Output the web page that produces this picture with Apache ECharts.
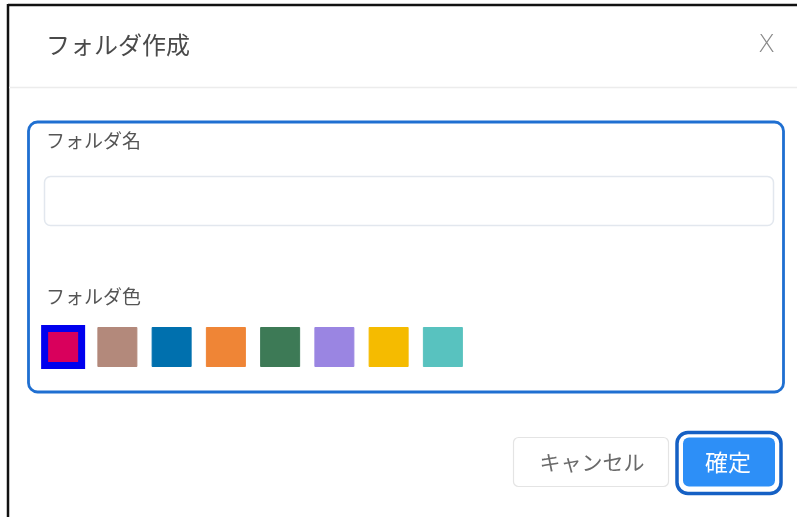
<!DOCTYPE html>
<html><head><meta charset="utf-8">
<script src="https://cdn.jsdelivr.net/npm/echarts@6/dist/echarts.min.js"></script>
<style>html,body{margin:0;padding:0;background:#fff}#c{width:797px;height:517px}</style>
</head><body><div id="c"></div>
<script>
const dialogTitle = 'フォルダ作成';
const nameLabel = 'フォルダ名';
const colorLabel = 'フォルダ色';
const cancelText = 'キャンセル';
const okText = '確定';
const swatchNames = ['magenta','brown','blue','orange','green','lavender','yellow','teal'];
const swatchColors = ['#d9005c','#b3897b','#0070ae','#ef8536','#3d7a56','#9a85e2','#f5bb00','#58c2bf'];
const swatchValues = [0.5,0.5,0.5,0.5,0.5,0.5,0.5,0.5];
const selectedIndex = 0;

const font = '"Noto Sans CJK JP","Noto Sans",sans-serif';
const chart = echarts.init(document.getElementById('c'), null, {renderer:'canvas'});
chart.setOption({
  backgroundColor:'#fff',
  animation:false,
  grid:{left:36, width:434, top:327, height:40},
  xAxis:{type:'category', data:swatchNames, show:false},
  yAxis:{type:'value', min:0, max:1, show:false},
  series:[{
    type:'scatter',
    symbol:'rect',
    symbolSize:39,
    data: swatchValues.map((v,i)=>({
      value:v,
      symbolSize: i===selectedIndex ? 37 : 39,
      itemStyle: i===selectedIndex
        ? {color:swatchColors[i], borderColor:'#0000ee', borderWidth:7, opacity:1}
        : {color:swatchColors[i], borderColor:swatchColors[i], borderWidth:1, opacity:1}
    })),
    emphasis:{disabled:true},
    z:10
  }],
  graphic:[
    {type:'line', shape:{x1:8,y1:5,x2:797,y2:5}, style:{stroke:'#111',lineWidth:2.5}},
    {type:'line', shape:{x1:8,y1:4,x2:8,y2:517}, style:{stroke:'#111',lineWidth:2.5}},
    {type:'line', shape:{x1:9,y1:87.5,x2:797,y2:87.5}, style:{stroke:'#ececec',lineWidth:1.5}},
    {type:'text', left:46, top:33, style:{text:dialogTitle, font:'24px '+font, fill:'#4a4a4a'}},
    {type:'text', left:758, top:33, style:{text:'X', font:'200 25px "DejaVu Sans",sans-serif', fill:'#8a8a8a'}},
    {type:'rect', shape:{x:28.5,y:122,width:755,height:270,r:9}, style:{fill:'none',stroke:'#1f6fd1',lineWidth:2.8}},
    {type:'text', left:46, top:131, style:{text:nameLabel, font:'19px '+font, fill:'#555'}},
    {type:'rect', shape:{x:44.5,y:176.5,width:729,height:49,r:6}, style:{fill:'#fff',stroke:'#e2e7ee',lineWidth:1.5}},
    {type:'text', left:46, top:287, style:{text:colorLabel, font:'19px '+font, fill:'#555'}},
    {type:'rect', shape:{x:513.5,y:437.5,width:155,height:49,r:5}, style:{fill:'#fff',stroke:'#e4e4e4',lineWidth:1.2}},
    {type:'text', x:592, y:462, style:{text:cancelText, font:'21px '+font, fill:'#6a6a6a', align:'center', verticalAlign:'middle'}},
    {type:'rect', shape:{x:677,y:432.5,width:104,height:61,r:11}, style:{fill:'#fff',stroke:'#1560c4',lineWidth:3.5}},
    {type:'rect', shape:{x:683,y:437.5,width:92,height:49,r:6}, style:{fill:'#2d8ff7'}},
    {type:'text', x:728, y:462, style:{text:okText, font:'23px '+font, fill:'#fff', align:'center', verticalAlign:'middle'}}
  ]
});
</script></body></html>
